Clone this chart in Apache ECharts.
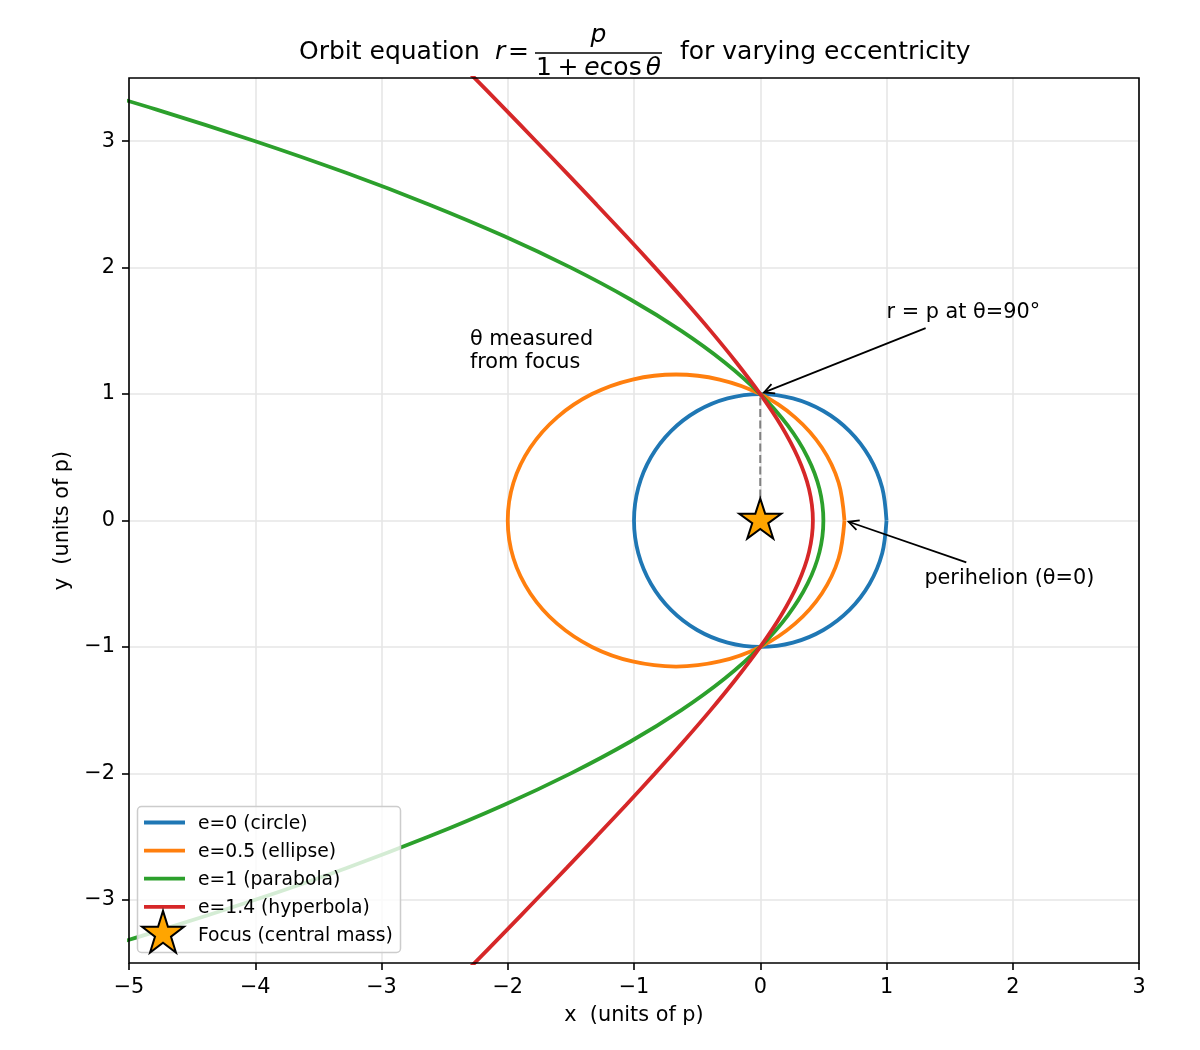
<!DOCTYPE html>
<html>
<head>
<meta charset="utf-8">
<script src="https://cdn.jsdelivr.net/npm/echarts@6.0.0/dist/echarts.min.js"></script>
<style>
  html, body { margin: 0; padding: 0; background: #fff; }
  #chart { width: 1200px; height: 1050px; }
</style>
</head>
<body>
<div id="chart"></div>
<script>
const FONT = "DejaVu Sans"

// series names / colours
const seriesNames = ["e=0 (circle)", "e=0.5 (ellipse)", "e=1 (parabola)", "e=1.4 (hyperbola)"]
const seriesColors = ["#1f77b4", "#ff7f0e", "#2ca02c", "#d62728"]
const focusName = "Focus (central mass)"

// orbit points [x, y] in units of p
const circlePts = [[1, 0], [0.966, 0.259], [0.866, 0.5], [0.707, 0.707], [0.5, 0.866], [0.259, 0.966], [0, 1],
  [-0.259, 0.966], [-0.5, 0.866], [-0.707, 0.707], [-0.866, 0.5], [-0.966, 0.259], [-1, 0],
  [-0.966, -0.259], [-0.866, -0.5], [-0.707, -0.707], [-0.5, -0.866], [-0.259, -0.966], [0, -1],
  [0.259, -0.966], [0.5, -0.866], [0.707, -0.707], [0.866, -0.5], [0.966, -0.259], [1, 0]]

const ellipsePts = [[0.667, 0], [0.621, 0.299], [0.488, 0.577], [0.276, 0.816], [0, 1], [-0.322, 1.115], [-0.667, 1.155],
  [-1.012, 1.115], [-1.333, 1], [-1.609, 0.816], [-1.821, 0.577], [-1.955, 0.299], [-2, 0],
  [-1.955, -0.299], [-1.821, -0.577], [-1.609, -0.816], [-1.333, -1], [-1.012, -1.115], [-0.667, -1.155],
  [-0.322, -1.115], [0, -1], [0.276, -0.816], [0.488, -0.577], [0.621, -0.299], [0.667, 0]]

const parabolaPts = [[-5.625, 3.5], [-4.781, 3.25], [-4, 3], [-3.281, 2.75], [-2.625, 2.5], [-2.031, 2.25], [-1.5, 2],
  [-1.031, 1.75], [-0.625, 1.5], [-0.281, 1.25], [0, 1], [0.219, 0.75], [0.375, 0.5], [0.469, 0.25], [0.5, 0],
  [0.469, -0.25], [0.375, -0.5], [0.219, -0.75], [0, -1], [-0.281, -1.25], [-0.625, -1.5], [-1.031, -1.75],
  [-1.5, -2], [-2.031, -2.25], [-2.625, -2.5], [-3.281, -2.75], [-4, -3], [-4.781, -3.25], [-5.625, -3.5]]

const hyperbolaPts = [[-2.361, 3.6], [-2.018, 3.25], [-1.776, 3], [-1.535, 2.75], [-1.298, 2.5], [-1.063, 2.25], [-0.833, 2],
  [-0.609, 1.75], [-0.393, 1.5], [-0.189, 1.25], [0, 1], [0.166, 0.75], [0.298, 0.5], [0.386, 0.25], [0.417, 0],
  [0.386, -0.25], [0.298, -0.5], [0.166, -0.75], [0, -1], [-0.189, -1.25], [-0.393, -1.5], [-0.609, -1.75],
  [-0.833, -2], [-1.063, -2.25], [-1.298, -2.5], [-1.535, -2.75], [-1.776, -3], [-2.018, -3.25], [-2.361, -3.6]]

const focusPt = [[0, 0]]
const guidePts = [[0, 0], [0, 1]]

// ticks
const xTicks = [-5, -4, -3, -2, -1, 0, 1, 2, 3]
const yTicks = [-3, -2, -1, 0, 1, 2, 3]

// annotations: arrows [fromX, fromY, toX, toY], texts and their anchor
const arrowSegs = [[1.31, 1.522, 0.03, 1.013], [1.632, -0.332, 0.70, -0.01]]
const noteTexts = ["r = p at θ=90°", "perihelion (θ=0)", "θ measured\nfrom focus"]
const notePos = [[1.0, 1.641], [1.3, -0.459], [-2.3, 1.336]]

// five point star outline, unit radius, y pointing down
const starUnit = [[0, -1], [0.2245, -0.309], [0.9511, -0.309], [0.3633, 0.118], [0.5878, 0.809], [0, 0.382],
  [-0.5878, 0.809], [-0.3633, 0.118], [-0.9511, -0.309], [-0.2245, -0.309]]
const STAR = "path://M" + starUnit.map(p => (p[0] * 100).toFixed(2) + "," + (p[1] * 100).toFixed(2)).join(" L") + " Z"

function fmtTick(v) {
  return v < 0 ? "\u2212" + Math.abs(v) : String(v)
}

const chart = echarts.init(document.getElementById("chart"))

const curveSeries = [circlePts, ellipsePts, parabolaPts, hyperbolaPts].map((pts, i) => ({
  name: seriesNames[i],
  type: "line",
  data: pts,
  smooth: 0.33,
  symbol: "none",
  showSymbol: false,
  lineStyle: { color: seriesColors[i], width: 3.8 },
  z: 2
}))

// legend drawn by hand (matplotlib style box)
const legendEls = [{
  type: "rect", z: 100,
  shape: { x: 137.5, y: 806.5, width: 263, height: 146, r: 4 },
  style: { fill: "rgba(255,255,255,0.8)", stroke: "#cccccc", lineWidth: 1.5 }
}]
seriesNames.forEach((name, i) => {
  const y = 822.5 + i * 28.1
  legendEls.push({ type: "line", z: 101, shape: { x1: 144, y1: y, x2: 185, y2: y }, style: { stroke: seriesColors[i], lineWidth: 3.8 } })
  legendEls.push({ type: "text", z: 101, x: 198, y: y + 1.5, style: { text: name, fontSize: 18.75, fontFamily: FONT, fill: "#000", verticalAlign: "middle" } })
})
const starRowY = 822.5 + 4 * 28.1
legendEls.push({
  type: "polygon", z: 101,
  shape: { points: starUnit.map(p => [163 + p[0] * 22, starRowY - 1 + p[1] * 23]) },
  style: { fill: "#ffa500", stroke: "#000", lineWidth: 2 }
})
legendEls.push({ type: "text", z: 101, x: 198, y: starRowY + 1.5, style: { text: focusName, fontSize: 18.75, fontFamily: FONT, fill: "#000", verticalAlign: "middle" } })

// title with the fraction
const titleEls = [
  { type: "text", x: 299, y: 52.6, style: { text: "Orbit equation", fontSize: 25, fontFamily: FONT, fill: "#000", verticalAlign: "middle" } },
  { type: "text", x: 495, y: 52.6, style: { text: "r", fontSize: 25, fontFamily: FONT, fontStyle: "italic", fill: "#000", verticalAlign: "middle" } },
  { type: "text", x: 508, y: 52.6, style: { text: "=", fontSize: 25, fontFamily: FONT, fill: "#000", verticalAlign: "middle" } },
  { type: "text", x: 598.5, y: 35.6, style: { text: "p", fontSize: 25, fontFamily: FONT, fontStyle: "italic", fill: "#000", align: "center", verticalAlign: "middle" } },
  { type: "line", shape: { x1: 535, y1: 53, x2: 662, y2: 53 }, style: { stroke: "#000", lineWidth: 1.3 } },
  {
    type: "text", x: 598.5, y: 68.6,
    style: {
      text: "1{s| }+{s| }{i|e}cos{t| }{i|θ}",
      fontSize: 25, fontFamily: FONT, fill: "#000", align: "center", verticalAlign: "middle",
      rich: {
        i: { fontSize: 25, fontFamily: FONT, fontStyle: "italic" },
        s: { fontSize: 18, fontFamily: FONT },
        t: { fontSize: 13, fontFamily: FONT }
      }
    }
  },
  { type: "text", x: 680, y: 52.6, style: { text: "for varying eccentricity", fontSize: 25, fontFamily: FONT, fill: "#000", verticalAlign: "middle" } }
]

const frameEl = {
  type: "rect", z: 50,
  shape: { x: 129, y: 78, width: 1010, height: 885 },
  style: { fill: "none", stroke: "#000", lineWidth: 1.6 }
}

const option = {
  animation: false,
  backgroundColor: "#fff",
  grid: { left: 129, top: 78, width: 1010, height: 885, outerBoundsMode: "none" },
  xAxis: {
    type: "value", min: -5, max: 3, interval: 1,
    name: "x  (units of p)", nameLocation: "middle", nameGap: 42,
    nameTextStyle: { fontSize: 20.8, fontFamily: FONT, color: "#000" },
    axisLine: { show: false, onZero: false },
    axisTick: { show: true, length: 7, customValues: xTicks, lineStyle: { color: "#000", width: 1.6 } },
    axisLabel: { fontSize: 20.8, fontFamily: FONT, color: "#000", margin: 14, customValues: xTicks, formatter: fmtTick },
    splitLine: { show: true, lineStyle: { color: "#e6e6e6", width: 1.6 } }
  },
  yAxis: {
    type: "value", min: -3.5, max: 3.5, splitNumber: 7, minInterval: 1, maxInterval: 1,
    name: "y  (units of p)", nameLocation: "middle", nameGap: 52,
    nameTextStyle: { fontSize: 20.8, fontFamily: FONT, color: "#000" },
    axisLine: { show: false, onZero: false },
    axisTick: { show: true, length: 7, customValues: yTicks, lineStyle: { color: "#000", width: 1.6 } },
    axisLabel: { fontSize: 20.8, fontFamily: FONT, color: "#000", margin: 14, customValues: yTicks, formatter: fmtTick },
    splitLine: { show: true, lineStyle: { color: "#e6e6e6", width: 1.6 } }
  },
  graphic: { elements: titleEls.concat([frameEl], legendEls) },
  series: curveSeries.concat([
    {
      name: "guide",
      type: "line",
      data: guidePts,
      symbol: "none",
      lineStyle: { color: "#808080", width: 2, type: [8, 3.5] },
      z: 3
    },
    {
      name: focusName,
      type: "scatter",
      data: focusPt,
      symbol: STAR,
      symbolSize: [42, 40],
      symbolOffset: [0, -2],
      itemStyle: { color: "#ffa500", borderColor: "#000", borderWidth: 2, opacity: 1 },
      z: 4
    },
    {
      name: "arrows",
      type: "custom",
      data: arrowSegs,
      encode: { x: [0, 2], y: [1, 3] },
      z: 5,
      renderItem: function (params, api) {
        const p0 = api.coord([api.value(0), api.value(1)])
        const p1 = api.coord([api.value(2), api.value(3)])
        const ang = Math.atan2(p1[1] - p0[1], p1[0] - p0[0])
        const L = 10, W = 5
        const bx = p1[0] - L * Math.cos(ang), by = p1[1] - L * Math.sin(ang)
        const nx = -Math.sin(ang) * W, ny = Math.cos(ang) * W
        return {
          type: "group",
          children: [
            { type: "line", shape: { x1: p0[0], y1: p0[1], x2: p1[0], y2: p1[1] }, style: { stroke: "#000", lineWidth: 1.8 } },
            { type: "polyline", shape: { points: [[bx + nx, by + ny], p1, [bx - nx, by - ny]] }, style: { stroke: "#000", lineWidth: 1.8, fill: "none" } }
          ]
        }
      }
    },
    {
      name: "notes",
      type: "custom",
      data: notePos,
      encode: { x: 0, y: 1 },
      z: 5,
      renderItem: function (params, api) {
        const p = api.coord([api.value(0), api.value(1)])
        return {
          type: "text", x: p[0], y: p[1],
          style: { text: noteTexts[params.dataIndex], fontSize: 20.8, fontFamily: FONT, fill: "#000", align: "left", verticalAlign: "middle", lineHeight: 23 }
        }
      }
    }
  ])
}

chart.setOption(option)
</script>
</body>
</html>
